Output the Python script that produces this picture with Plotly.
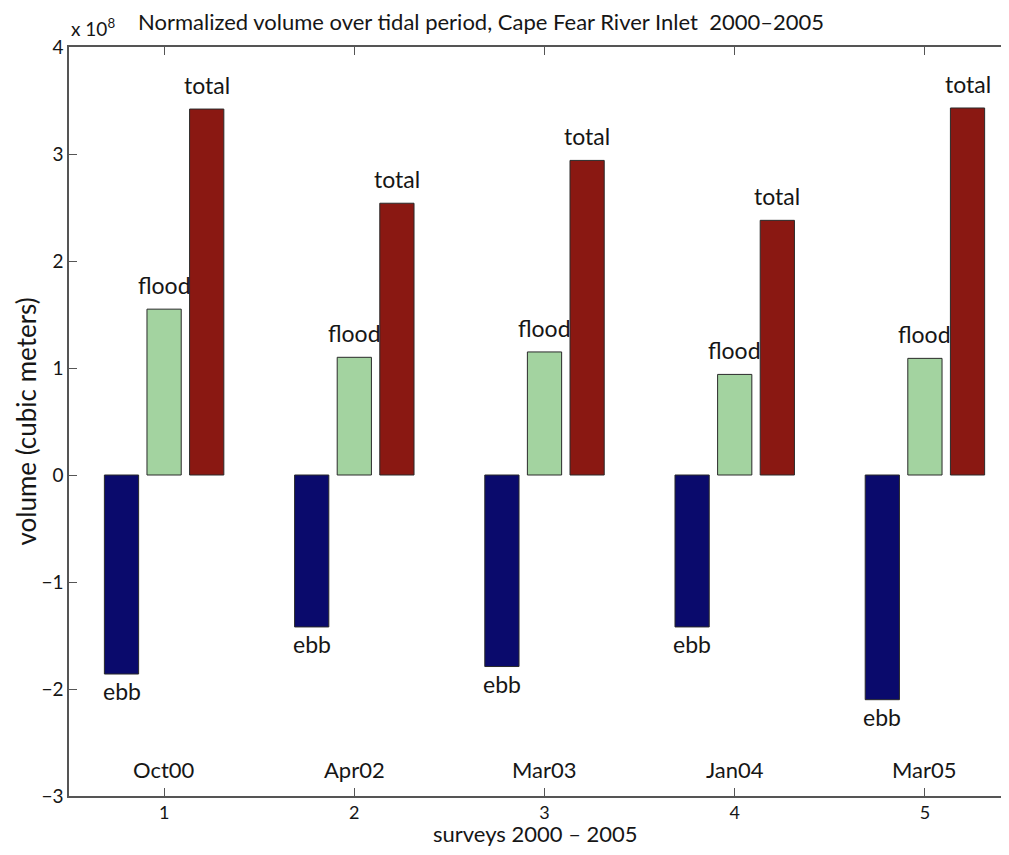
import plotly.graph_objects as go

# survey positions and names
surveys = [1, 2, 3, 4, 5]
survey_names = ["Oct00", "Apr02", "Mar03", "Jan04", "Mar05"]

# volumes in units of 1e8 cubic meters
ebb = [-1.86, -1.42, -1.79, -1.42, -2.10]
flood = [1.55, 1.10, 1.15, 0.94, 1.09]
total = [3.42, 2.54, 2.94, 2.38, 3.43]

FONT = "Lato"
BAR_W = 0.18
TXT = "#161616"

# the page body has an 8px margin, so the figure is a bit smaller than the window
W, H = 993, 839

fig = go.Figure()


def add_bars(vals, name, color, shift):
    fig.add_trace(go.Bar(
        x=surveys, y=vals, name=name,
        width=BAR_W, offset=shift - BAR_W / 2,
        marker=dict(color=color, line=dict(color="#2a2a2a", width=1)),
    ))
    # label each bar just past its end
    for s, v in zip(surveys, vals):
        up = v >= 0
        fig.add_annotation(x=s + shift, y=v, text=name, showarrow=False,
                           yanchor="bottom" if up else "top",
                           yshift=8 if up else -1,
                           font=dict(family=FONT, size=23, color=TXT))


add_bars(ebb, "ebb", "#0a0a6c", -0.224)
add_bars(flood, "flood", "#a3d3a0", 0.0)
add_bars(total, "total", "#8a1812", 0.224)

# survey names near the bottom of the axes
for s, n in zip(surveys, survey_names):
    fig.add_annotation(x=s, y=-2.75, text=n, showarrow=False,
                       font=dict(family=FONT, size=22, color=TXT))

fig.add_annotation(xref="paper", yref="paper", x=0.0, y=1.0, yshift=5,
                   xanchor="left", yanchor="bottom", showarrow=False,
                   text="x 10<sup>8</sup>", font=dict(family=FONT, size=19, color=TXT))

# axis titles placed by hand
fig.add_annotation(xref="paper", yref="paper", x=0.5, y=0, yshift=-37, borderpad=0,
                   xanchor="center", yanchor="middle", showarrow=False,
                   text="surveys 2000 \u2013 2005", font=dict(family=FONT, size=22, color=TXT))
fig.add_annotation(xref="paper", yref="paper", x=0, xshift=-44, y=0.5,
                   xanchor="center", yanchor="middle", showarrow=False, textangle=-90,
                   text="volume (cubic meters)", font=dict(family=FONT, size=26, color=TXT))

fig.update_layout(
    width=W, height=H,
    margin=dict(l=61, r=0, t=39, b=51),
    paper_bgcolor="white", plot_bgcolor="white",
    barmode="overlay", showlegend=False,
    font=dict(family=FONT, size=19, color=TXT),
    title=dict(text="Normalized volume over tidal period, Cape Fear River Inlet  2000\u20132005",
               x=473 / W, xanchor="center", y=1 - 14 / H, yanchor="middle",
               font=dict(family=FONT, size=22, color=TXT)),
)
fig.update_xaxes(range=[0.5, 5.4], tickvals=surveys, ticks="inside", ticklen=8,
                 tickcolor="#555", showline=True, linecolor="#555", linewidth=1.5,
                 mirror="ticks", showgrid=False, zeroline=False, automargin=False,
                 tickfont=dict(family=FONT, size=18))
fig.update_yaxes(range=[-3, 4], dtick=1, ticks="inside", ticklen=8,
                 tickcolor="#555", showline=True, linecolor="#555", linewidth=1.5,
                 showgrid=False, zeroline=False, automargin=False,
                 tickfont=dict(family=FONT, size=19))

fig.write_html("out.html")
